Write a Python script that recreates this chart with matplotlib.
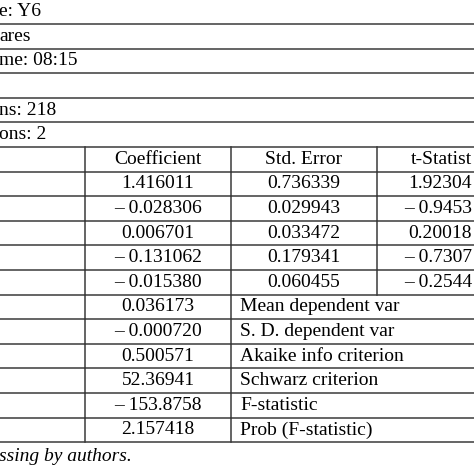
import matplotlib.pyplot as plt

# Visible text of the (cropped) regression output table
top_lines = ["e: Y6", "ares", "me: 08:15", "", "ns: 218", "ons: 2"]
header = ["", "Coefficient", "Std. Error", "t-Statist"]
coef = ["1.416011", "\u2013 0.028306", "0.006701", "\u2013 0.131062", "\u2013 0.015380"]
std_err = ["0.736339", "0.029943", "0.033472", "0.179341", "0.060455"]
t_stat = ["1.92304", "\u2013 0.9453", "0.20018", "\u2013 0.7307", "\u2013 0.2544"]
stat_vals = ["0.036173", "\u2013 0.000720", "0.500571", "52.36941", "\u2013 153.8758", "2.157418"]
stat_names = ["Mean dependent var", "S. D. dependent var", "Akaike info criterion",
              "Schwarz criterion", "F-statistic", "Prob (F-statistic)"]
note = "ssing by authors."

W = 474
row_h = 24.6
y0 = 24.0
col_x = [85, 231, 377]
fs = 14
font = "Liberation Serif"
lc = "#3a3a3a"

fig = plt.figure(figsize=(4.74, 4.74), dpi=100)
ax = fig.add_axes([0, 0, 1, 1])
ax.set_xlim(0, W)
ax.set_ylim(W, 0)
ax.axis("off")

def hline(y):
    ax.plot([0, W], [y, y], color=lc, lw=1.1)

hline(y0)
for i, t in enumerate(top_lines):
    yc = y0 + (i - 0.5) * row_h
    ax.text(-1, yc, t, ha="left", va="center", fontsize=fs, family=font)
    if i > 0:
        hline(y0 + i * row_h)

tbl_top = y0 + 5 * row_h
rows = [header] + [["", c, s, t] for c, s, t in zip(coef, std_err, t_stat)]
for r, row in enumerate(rows):
    ya = tbl_top + r * row_h
    yb = ya + row_h
    for cx in col_x:
        ax.plot([cx, cx], [ya, yb], color=lc, lw=1.1)
    for j, cx in zip(range(1, 3), [158, 304]):
        ax.text(cx, (ya + yb) / 2, row[j], ha="center", va="center",
                fontsize=fs, family=font)
    # last column is cut by the image edge: right-align visible part
    ax.text(472, (ya + yb) / 2, row[3], ha="right", va="center",
            fontsize=fs, family=font)
    hline(yb)

st_top = tbl_top + len(rows) * row_h
for r, (v, n) in enumerate(zip(stat_vals, stat_names)):
    ya = st_top + r * row_h
    yb = ya + row_h
    for cx in col_x[:2]:
        ax.plot([cx, cx], [ya, yb], color=lc, lw=1.1)
    ax.text(158, (ya + yb) / 2, v, ha="center", va="center", fontsize=fs, family=font)
    ax.text(240, (ya + yb) / 2, n, ha="left", va="center", fontsize=fs, family=font)
    hline(yb)

ax.text(-1, st_top + 6 * row_h + 14, note, ha="left", va="center", fontsize=fs,
        family=font, style="italic")

fig.savefig("out.png", dpi=100)
